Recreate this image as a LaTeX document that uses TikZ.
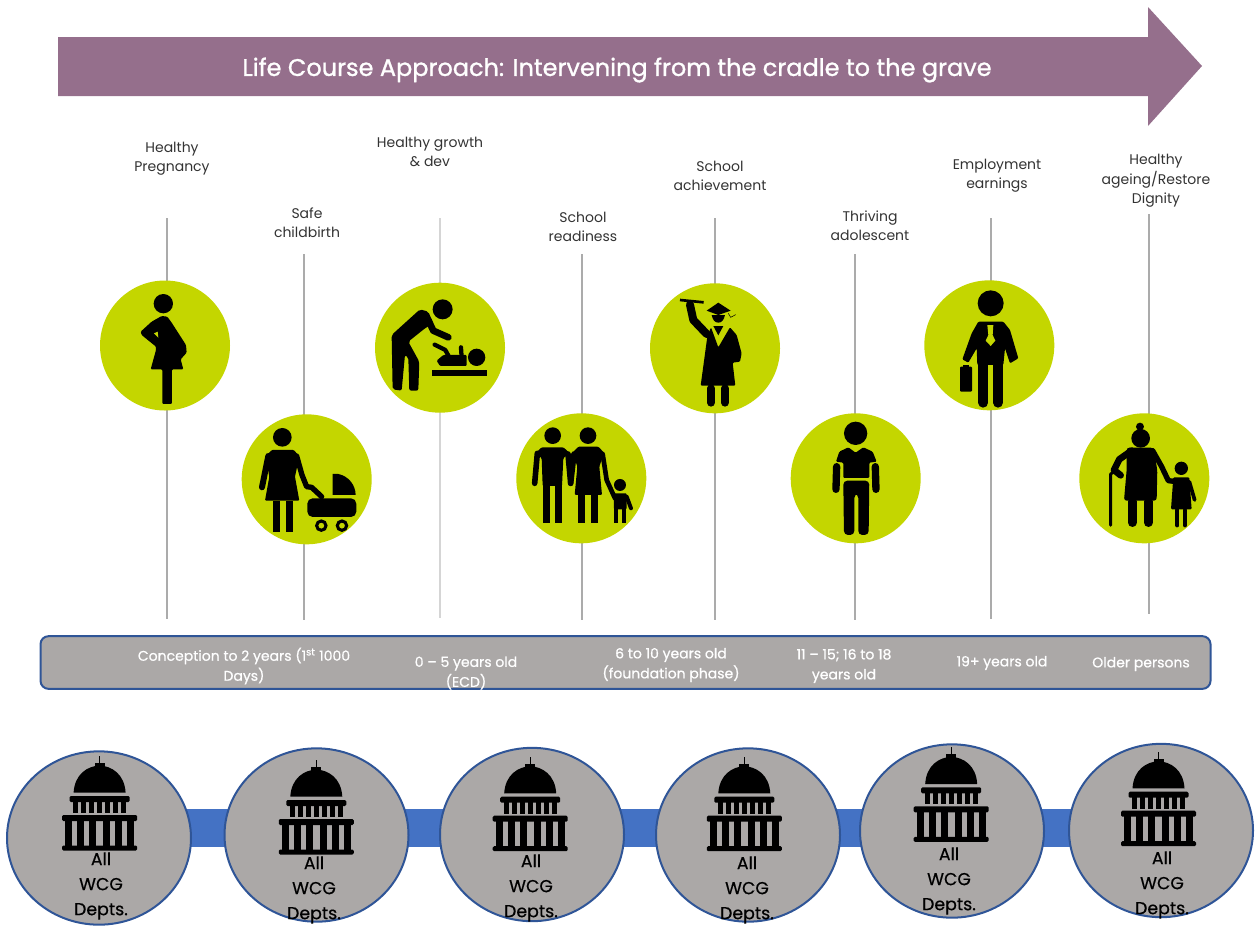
\documentclass[tikz,border=0pt]{standalone}
\usepackage{fontspec}
\setmainfont{Poppins}
\newfontfamily\bandfont[FakeBold=0.7]{Poppins}
\newfontfamily\titlefont[FakeBold=1.1]{Poppins}
\newfontfamily\deptfont[FakeBold=0.5]{Poppins}
\usetikzlibrary{shapes.geometric}

\definecolor{banner}{HTML}{956F8C}
\definecolor{lime}{HTML}{C4D600}
\definecolor{slab}{HTML}{ABA8A7}
\definecolor{rim}{HTML}{2F5597}
\definecolor{link}{HTML}{4472C4}
\definecolor{stem}{HTML}{ABABAB}

\tikzstyle{lifecirc} = [circle, fill=lime, minimum size=97.5pt, inner sep=0pt]
\tikzstyle{wcgcirc} = [ellipse, fill=slab, draw=rim, line width=1.5pt, minimum width=138pt, minimum height=130pt, inner sep=0pt]
\tikzstyle{stage} = [align=center, font=\fontsize{10.5}{14.5}\selectfont, text=black!80]
\tikzstyle{age} = [align=center, font=\bandfont\fontsize{10.5}{15}\selectfont, text=white]
\tikzstyle{dept} = [align=center, font=\deptfont\fontsize{13}{18.75}\selectfont, text=black]
\tikzstyle{stemline} = [draw=stem, line width=0.9pt]
\tikzstyle{ink} = [fill=black, draw=none, rounded corners=0.8pt]
\tikzstyle{limb} = [draw=black, line cap=round, line join=round, line width=5pt]
\tikzset{capitol/.pic={
	\fill (-0.4,0) rectangle (0.4,8);
	\fill (-5,7) rectangle (5,11);
	\fill (-26,36.7) .. controls (-25,18) and (-12,10) .. (0,9.5) .. controls (12,10) and (25,18) .. (26,36.7) -- cycle;
	\fill[rounded corners=1pt] (-30,40) rectangle (30,46);
	\foreach \cx in {-24,-16,-8,0,8,16,24} {\fill (\cx-2.7,45) rectangle (\cx+2.7,57);}
	\fill[rounded corners=1pt] (-37.5,59) rectangle (37.5,65);
	\foreach \cx in {-31,-19,-7,7,19,31} {\fill (\cx-3.4,64) rectangle (\cx+3.4,91);}
	\fill[rounded corners=1pt] (-37.5,89.5) rectangle (37.5,94.5);
}}

\begin{document}
\begin{tikzpicture}[x=0.75pt,y=-0.75pt]
\useasboundingbox (0,0) rectangle (1255,925);

% banner
\fill[banner] (58,37) -- (1148,37) -- (1148,7) -- (1202,66) -- (1148,126) -- (1148,96) -- (58,96) -- cycle;
\node [text=white, font=\titlefont\fontsize{18}{22}\selectfont] (title) at (617,70) {Life Course Approach: Intervening from the cradle to the grave};

% stems
\coordinate (preg top) at (167,218);   \coordinate (preg end) at (167,619);
\coordinate (pram top) at (304,254);   \coordinate (pram end) at (304,620);
\coordinate (baby top) at (440,218);   \coordinate (baby end) at (440,618);
\coordinate (fam top) at (582,254);    \coordinate (fam end) at (582,620);
\coordinate (grad top) at (715,218);   \coordinate (grad end) at (715,620);
\coordinate (teen top) at (855,254);   \coordinate (teen end) at (855,620);
\coordinate (work top) at (991,218);   \coordinate (work end) at (991,619);
\coordinate (old top) at (1149,214);   \coordinate (old end) at (1149,614);
\draw [stemline] (preg top) -- (preg end);
\draw [stemline] (pram top) -- (pram end);
\draw [stemline, draw=stem!50] (baby top) -- (baby end);
\draw [stemline] (fam top) -- (fam end);
\draw [stemline] (grad top) -- (grad end);
\draw [stemline] (teen top) -- (teen end);
\draw [stemline] (work top) -- (work end);
\draw [stemline] (old top) -- (old end);

% stage labels
\node [stage] (preg label) at (172,159) {Healthy\\Pregnancy};
\node [stage] (pram label) at (307,223) {Safe\\childbirth};
\node [stage] (baby label) at (430,152) {Healthy growth\\\& dev};
\node [stage] (fam label) at (583,227) {School\\readiness};
\node [stage] (grad label) at (720,176) {School\\achievement};
\node [stage] (teen label) at (870,226) {Thriving\\adolescent};
\node [stage] (work label) at (997,176) {Employment\\earnings};
\node [stage] (old label) at (1156,181) {Healthy\\ageing/Restore\\Dignity};

% lime circles
\node [lifecirc] (preg) at (165,345.5) {};
\node [lifecirc] (pram) at (306.7,479.3) {};
\node [lifecirc] (baby) at (440,347.7) {};
\node [lifecirc] (fam) at (581.3,478.3) {};
\node [lifecirc] (grad) at (715,348.3) {};
\node [lifecirc] (teen) at (855.7,478.3) {};
\node [lifecirc] (work) at (989.3,345.3) {};
\node [lifecirc] (old) at (1144.3,478.3) {};

% figures in the first group
\begin{scope}[shift={(90,270)},scale=0.3333]
	\fill (220,101) circle (29);
	\fill[ink] (215,138) -- (232,140) -- (245,158) -- (272,200) -- (288,225) -- (290,248) -- (272,268) -- (280,298) -- (246,298) -- (246,402) -- (217,402) -- (217,298) -- (182,298) -- (198,240) -- (198,230) -- (155,195) -- (152,185) -- (185,155) -- cycle;
	\fill[lime] (192,190) -- (203,185) -- (205,203) -- cycle;
	%
	\fill (577,502) circle (28);
	\fill[ink] (545,540) -- (612,540) -- (628,560) -- (615,620) -- (628,692) -- (525,692) -- (538,620) -- (527,560) -- cycle;
	\draw[limb, line width=4.5pt] (535,558) -- (516,652);
	\draw[limb, line width=4pt] (620,558) -- (636,615) -- (650,650) -- (665,652) -- (695,680);
	\fill (548,692) rectangle (570,787);
	\fill (587,692) rectangle (610,787);
	\fill (728,612) -- (745,612) .. controls (775,618) and (797,645) .. (797,675) -- (728,675) -- cycle;
	\fill[ink, rounded corners=4pt] (652,685) -- (799,685) -- (799,741) -- (652,741) -- cycle;
	\draw[black, line width=2.3pt] (694,767) circle (14);
	\draw[black, line width=2.3pt] (756,767) circle (14);
	%
	\fill (1058,118) circle (30);
	\fill[ink, rounded corners=1.5pt] (990,118) -- (1015,125) -- (1030,160) -- (1005,175) -- (955,215) -- (988,275) -- (985,362) -- (958,362) -- (955,262) -- (945,255) -- (935,362) -- (908,358) -- (905,195) -- cycle;
	\draw[limb] (1015,150) -- (1030,182) -- (1075,202);
	\fill (1025,301) rectangle (1190,317);
	\fill (1160,262) circle (26);
	\fill[ink] (1040,272) -- (1060,255) -- (1130,255) -- (1130,288) -- (1050,288) -- cycle;
	\draw[limb, line width=3.2pt] (1034,224) -- (1066,240) -- (1078,262);
	\draw[limb, line width=3.2pt] (1113,232) -- (1115,262);
\end{scope}

% figures in the second group
\begin{scope}[shift={(510,270)},scale=0.3333]
	\fill (128,497) circle (25);
	\fill (234,497) circle (25);
	\fill[ink] (95,532) -- (160,532) -- (178,548) -- (160,565) -- (156,648) -- (98,648) -- (95,565) -- (78,548) -- cycle;
	\fill (99,645) rectangle (120,758);
	\fill (135,645) rectangle (156,758);
	\draw[limb, line width=4.2pt] (82,550) -- (74,640);
	\draw[limb, line width=4.2pt] (174,552) -- (182,640);
	\fill[ink] (205,530) -- (265,530) -- (282,548) -- (268,590) -- (276,675) -- (194,675) -- (202,590) -- (188,548) -- cycle;
	\fill (205,672) rectangle (225,758);
	\fill (243,672) rectangle (263,758);
	\draw[limb, line width=4.2pt] (192,552) -- (182,640);
	\draw[limb, line width=3.5pt] (278,552) -- (290,630) -- (315,685);
	\fill (330,645) circle (18);
	\fill[ink] (312,670) -- (350,670) -- (350,718) -- (312,718) -- cycle;
	\fill (312,715) rectangle (325,758);
	\fill (336,715) rectangle (349,758);
	\draw[limb, line width=3pt] (350,680) -- (363,715);
	%
	\draw[black, line width=2pt] (510,90) -- (581,97);
	\draw[limb, line width=6pt] (540,104) -- (550,150) -- (590,192);
	\fill (590,122) -- (625,98) -- (662,122) -- (625,135) -- cycle;
	\fill (605,135) -- (645,135) .. controls (642,150) and (635,158) .. (625,158) .. controls (615,158) and (608,150) .. (605,135) -- cycle;
	\draw[black, line width=0.4pt] (655,130) -- (662,142) -- (677,134);
	\fill[ink] (592,200) -- (572,347) -- (676,347) -- (668,278) -- (690,275) -- (695,250) -- (680,195) -- (660,172) -- (625,232) -- (603,172) -- cycle;
	\fill (610,168) -- (640,168) -- (625,196) -- cycle;
	\draw[limb, line width=6pt] (603,355) -- (603,398);
	\draw[limb, line width=6pt] (645,355) -- (645,398);
	\fill (1037,490) circle (35);
	\fill[ink] (1015,532) -- (1037,548) -- (1060,532) -- (1088,545) -- (1100,575) -- (1078,578) -- (1078,624) -- (1000,624) -- (1000,578) -- (978,575) -- (988,545) -- cycle;
	\draw[limb, line width=5.5pt] (980,590) -- (978,658);
	\draw[limb, line width=5.5pt] (1096,590) -- (1098,658);
	\fill[ink, rounded corners=3pt] (1000,632) -- (1078,632) -- (1076,795) -- (1045,795) -- (1045,672) -- (1033,672) -- (1033,795) -- (1002,795) -- cycle;
\end{scope}

% figures in the third group
\begin{scope}[shift={(900,270)},scale=0.3333]
	\fill (272,100) circle (39);
	\fill[ink] (235,155) -- (310,155) -- (330,180) -- (355,265) -- (330,280) -- (315,235) -- (310,285) -- (232,285) -- (230,235) -- (205,278) -- (187,268) -- (215,190) -- cycle;
	\fill[lime] (262,165) -- (280,165) -- (278,195) -- (286,212) -- (272,228) -- (257,212) -- (265,195) -- cycle;
	\draw[limb, line width=7.5pt] (250,285) -- (250,398);
	\draw[limb, line width=7.5pt] (294,285) -- (294,398);
	\fill[ink] (180,290) rectangle (216,365);
	\fill (190,284) rectangle (206,292);
	%
	\fill (722,505) circle (28);
	\fill (720,470) circle (12);
	\fill[ink, rounded corners=2pt] (680,533) -- (760,533) -- (772,600) -- (770,692) -- (672,692) -- (680,600) -- cycle;
	\draw[limb] (695,542) -- (658,568) -- (642,600) -- (662,616);
	\draw[limb, line width=2.2pt] (632,766) -- (632,612) -- (650,600);
	\draw[limb, line width=4pt] (758,542) -- (785,590) -- (805,632) -- (830,635);
	\draw[limb, line width=6.5pt] (697,695) -- (697,758);
	\draw[limb, line width=6.5pt] (745,695) -- (745,758);
	\fill (844,595) circle (20);
	\fill[ink] (820,622) -- (868,622) -- (875,718) -- (813,718) -- cycle;
	\draw[limb, line width=3.2pt] (832,720) -- (832,766);
	\draw[limb, line width=3.2pt] (855,720) -- (855,766);
	\draw[limb, line width=2.8pt] (868,635) -- (884,690);
\end{scope}

% age band
\node [draw=rim, fill=slab, line width=1.5pt, rounded corners=6pt, minimum width=877.5pt, minimum height=39.5pt, inner sep=0pt] (band) at (625.5,662.5) {};
\node [age] (age one) at (244,666) {Conception to 2 years (1\textsuperscript{st} 1000\\Days)};
\node [age] (age two) at (466,673) {0 – 5 years old\\(ECD)};
\node [age] (age three) at (671,665) {6 to 10 years old\\(foundation phase)};
\node [age] (age four) at (844,666) {11 – 15; 16 to 18\\years old};
\node [age] (age five) at (1002,663) {19+ years old};
\node [age] (age six) at (1141,664) {Older persons};

% departments
\coordinate (link start) at (99,828);
\coordinate (link end) at (1161,828);
\draw [link, line width=28.5pt] (link start) -- (link end);
\node [wcgcirc] (wcg one) at (99,838) {};
\node [wcgcirc] (wcg two) at (316.5,835) {};
\node [wcgcirc] (wcg three) at (532,834.5) {};
\node [wcgcirc] (wcg four) at (748,835) {};
\node [wcgcirc] (wcg five) at (952,831) {};
\node [wcgcirc] (wcg six) at (1161,830.5) {};
\pic (dome one) at (99.6,756) {capitol};
\pic (dome two) at (316.3,760) {capitol};
\pic (dome three) at (530.2,756.7) {capitol};
\pic (dome four) at (744.3,756.7) {capitol};
\pic (dome five) at (951.2,747.3) {capitol};
\pic (dome six) at (1158.5,751.7) {capitol};
\node [dept] (text one) at (101,886) {All\\WCG\\Depts.};
\node [dept] (text two) at (314,890) {All\\WCG\\Depts.};
\node [dept] (text three) at (531,888) {All\\WCG\\Depts.};
\node [dept] (text four) at (747,890) {All\\WCG\\Depts.};
\node [dept] (text five) at (949,881) {All\\WCG\\Depts.};
\node [dept] (text six) at (1162,885) {All\\WCG\\Depts.};
\end{tikzpicture}
\end{document}
